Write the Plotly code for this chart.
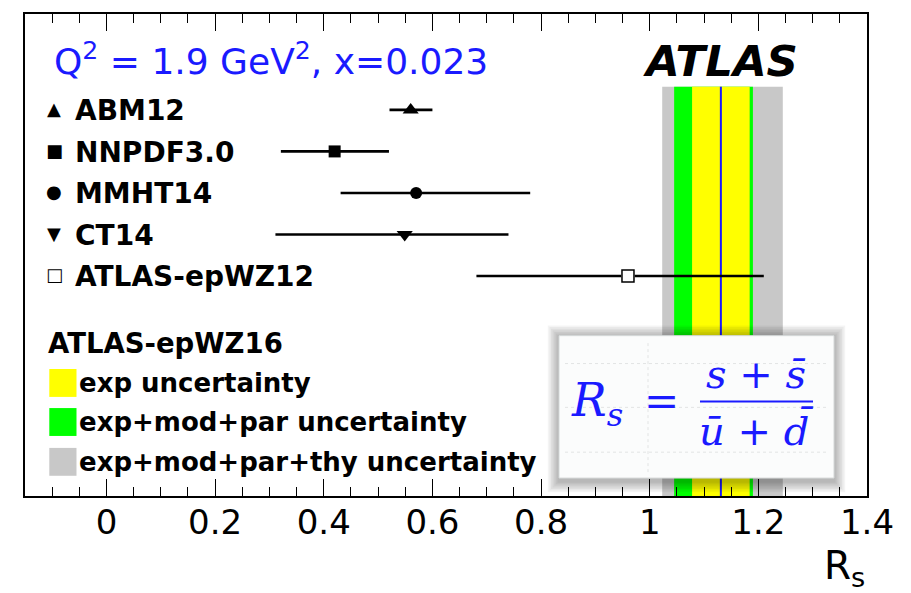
import plotly.graph_objects as go

# ---------------- data ----------------
pdf_names = ["ABM12", "NNPDF3.0", "MMHT14", "CT14", "ATLAS-epWZ12"]
rs_central = [0.560, 0.420, 0.570, 0.549, 0.960]
rs_low = [0.521, 0.321, 0.431, 0.311, 0.681]
rs_high = [0.600, 0.520, 0.780, 0.740, 1.210]
marker_symbols = ["triangle-up", "square", "circle", "triangle-down", "square-open"]
legend_glyphs = ["▲", "■", "●", "▼", "□"]

epwz16_central = 1.131
band_labels = ["exp uncertainty", "exp+mod+par uncertainty", "exp+mod+par+thy uncertainty"]
band_low = [1.078, 1.045, 1.023]
band_high = [1.184, 1.190, 1.245]
band_colors = ["#ffff00", "#00ff00", "#c8c8c8"]

x_ticks = [0, 0.2, 0.4, 0.6, 0.8, 1.0, 1.2, 1.4]
x_tick_text = ["0", "0.2", "0.4", "0.6", "0.8", "1", "1.2", "1.4"]

# ---------------- layout helpers ----------------
W, H = 911, 593
L, R, T, B = 25, 867, 12, 496
BLUE = "#1a1aff"
SANS = "DejaVu Sans"
SERIF = "DejaVu Serif"


def px(xp):
    return (xp - L) / (R - L)


def py(yp):
    return (B - yp) / (B - T)


rows = list(range(len(pdf_names)))
row0_px, row_step = 108.3, 41.69
y_top = (T - row0_px) / row_step
y_bot = (B - row0_px) / row_step

fig = go.Figure()

# uncertainty bands (widest first)
order = sorted(range(3), key=lambda i: -(band_high[i] - band_low[i]))
for i in order:
    fig.add_shape(type="rect", xref="x", yref="y domain", x0=band_low[i], x1=band_high[i],
                  y0=0, y1=py(85), fillcolor=band_colors[i], line_width=0, layer="below")
fig.add_shape(type="line", xref="x", yref="y domain", x0=epwz16_central, x1=epwz16_central,
              y0=0, y1=py(85), line=dict(color=BLUE, width=2), layer="below")

# PDF points with error bars
for i, name in enumerate(pdf_names):
    sym = marker_symbols[i]
    size = 14 if "triangle" in sym else 12
    fig.add_trace(go.Scatter(
        x=[rs_central[i]], y=[rows[i]], mode="markers", name=name,
        marker=dict(symbol=sym, size=size, color="black" if sym != "square-open" else "white",
                    line=dict(color="black", width=1.5 if sym == "square-open" else 0)),
        error_x=dict(type="data", symmetric=False,
                     array=[rs_high[i] - rs_central[i]],
                     arrayminus=[rs_central[i] - rs_low[i]],
                     thickness=2.6, width=0, color="black"),
        showlegend=False, cliponaxis=False))
# white-filled open square drawn on top of its line
fig.add_trace(go.Scatter(x=[rs_central[4]], y=[rows[4]], mode="markers", showlegend=False,
                         marker=dict(symbol="square", size=12, color="white",
                                     line=dict(color="black", width=1.5))))

# ---------------- annotations ----------------
ann = []
for i, name in enumerate(pdf_names):
    ypix = row0_px + row_step * rows[i]
    ann.append(dict(xref="paper", yref="paper", x=px(54), y=py(ypix - 1), xanchor="center",
                    yanchor="middle", text=legend_glyphs[i], showarrow=False,
                    font=dict(family=SANS, size=18, color="black")))
    ann.append(dict(xref="paper", yref="paper", x=px(73), y=py(ypix + 1), xanchor="left",
                    yanchor="middle", text="<b>%s</b>" % name, showarrow=False,
                    font=dict(family=SANS, size=28, color="black")))

ann.append(dict(xref="paper", yref="paper", x=px(46), y=py(342), xanchor="left", yanchor="middle",
                text="<b>ATLAS-epWZ16</b>", showarrow=False,
                font=dict(family=SANS, size=27.5, color="black")))
legend_rows = [382.5, 421.7, 461.7]
for i, lab in enumerate(band_labels):
    yc = legend_rows[i]
    fig.add_shape(type="rect", xref="paper", yref="paper", x0=px(49.3), x1=px(76.5),
                  y0=py(yc + 14), y1=py(yc - 14), fillcolor=band_colors[i], line_width=0,
                  layer="above")
    ann.append(dict(xref="paper", yref="paper", x=px(77), y=py(yc), xanchor="left",
                    yanchor="middle", text="<b>%s</b>" % lab, showarrow=False,
                    font=dict(family=SANS, size=26, color="black")))

ann.append(dict(xref="paper", yref="paper", x=px(52), y=py(57), xanchor="left", yanchor="middle",
                text="Q<sup>2</sup> = 1.9 GeV<sup>2</sup>, x=0.023", showarrow=False,
                font=dict(family=SANS, size=36, color=BLUE)))
ann.append(dict(xref="paper", yref="paper", x=px(641), y=py(59), xanchor="left", yanchor="middle",
                text="<b><i>ATLAS</i></b>", showarrow=False,
                font=dict(family=SANS, size=43.5, color="black")))
ann.append(dict(xref="paper", yref="paper", x=px(867), y=py(568), xanchor="right",
                yanchor="middle", text="R<sub>s</sub>", showarrow=False,
                font=dict(family=SANS, size=39, color="black")))

# ---------------- formula box ----------------
bx0, bx1, by0, by1 = 559, 834, 335, 478
for k in range(7, 0, -1):
    e = 1.6 * k
    fig.add_shape(type="rect", xref="paper", yref="paper", x0=px(bx0 - e), x1=px(bx1 + e),
                  y0=py(by1 + e + 3), y1=py(by0 - e + 1), fillcolor="rgba(0,0,0,0.045)",
                  line_width=0, layer="above")
fig.add_shape(type="rect", xref="paper", yref="paper", x0=px(bx0), x1=px(bx1), y0=py(by1),
              y1=py(by0), fillcolor="#fbfcfc", line=dict(color="#d5d9d9", width=1), layer="above")
for gx in [648]:
    fig.add_shape(type="line", xref="paper", yref="paper", x0=px(gx), x1=px(gx), y0=py(by1 - 6),
                  y1=py(by0 + 6), line=dict(color="#e2e4e4", width=1, dash="dot"), layer="above")
for gy in [363, 407, 452]:
    fig.add_shape(type="line", xref="paper", yref="paper", x0=px(bx0 + 6), x1=px(bx1 - 6),
                  y0=py(gy), y1=py(gy), line=dict(color="#e2e4e4", width=1, dash="dot"),
                  layer="above")
fig.add_shape(type="line", xref="paper", yref="paper", x0=px(700), x1=px(813), y0=py(401),
              y1=py(401), line=dict(color=BLUE, width=2), layer="above")
ann.append(dict(xref="paper", yref="paper", x=px(597), y=py(403), xanchor="center",
                yanchor="middle", text="<i>R</i><sub><i>s</i></sub>", showarrow=False,
                font=dict(family=SERIF, size=46, color=BLUE)))
ann.append(dict(xref="paper", yref="paper", x=px(661), y=py(401), xanchor="center",
                yanchor="middle", text="=", showarrow=False,
                font=dict(family=SERIF, size=42, color=BLUE)))
ann.append(dict(xref="paper", yref="paper", x=px(756), y=py(373), xanchor="center",
                yanchor="middle", text="<i>s</i> + <i>s\u0304</i>", showarrow=False,
                font=dict(family=SERIF, size=40, color=BLUE)))
ann.append(dict(xref="paper", yref="paper", x=px(756), y=py(430), xanchor="center",
                yanchor="middle", text="<i>\u016b</i> + <i>d\u0304</i>", showarrow=False,
                font=dict(family=SERIF, size=40, color=BLUE)))

fig.update_layout(
    width=W, height=H, margin=dict(l=L, r=W - R, t=T, b=H - B, pad=0),
    paper_bgcolor="white", plot_bgcolor="white", showlegend=False,
    annotations=ann,
    xaxis=dict(range=[-0.15, 1.4], tickvals=x_ticks, ticktext=x_tick_text,
               ticks="inside", ticklen=17, tickwidth=1.2, tickcolor="black",
               minor=dict(dtick=0.05, tick0=0, ticks="inside", ticklen=9, tickwidth=1.2,
                          tickcolor="black"),
               showline=True, linecolor="black", linewidth=1.5, mirror="ticks",
               showgrid=False, zeroline=False, ticklabelstandoff=-5,
               tickfont=dict(family=SANS, size=34, color="black")),
    yaxis=dict(range=[y_bot, y_top], showticklabels=False, ticks="", showgrid=False,
               zeroline=False, showline=True, linecolor="black", linewidth=1.5, mirror=True),
)

fig.write_html("out.html", config={"displayModeBar": False},
               post_script="document.body.style.margin='0px';document.body.style.overflow='hidden';")
